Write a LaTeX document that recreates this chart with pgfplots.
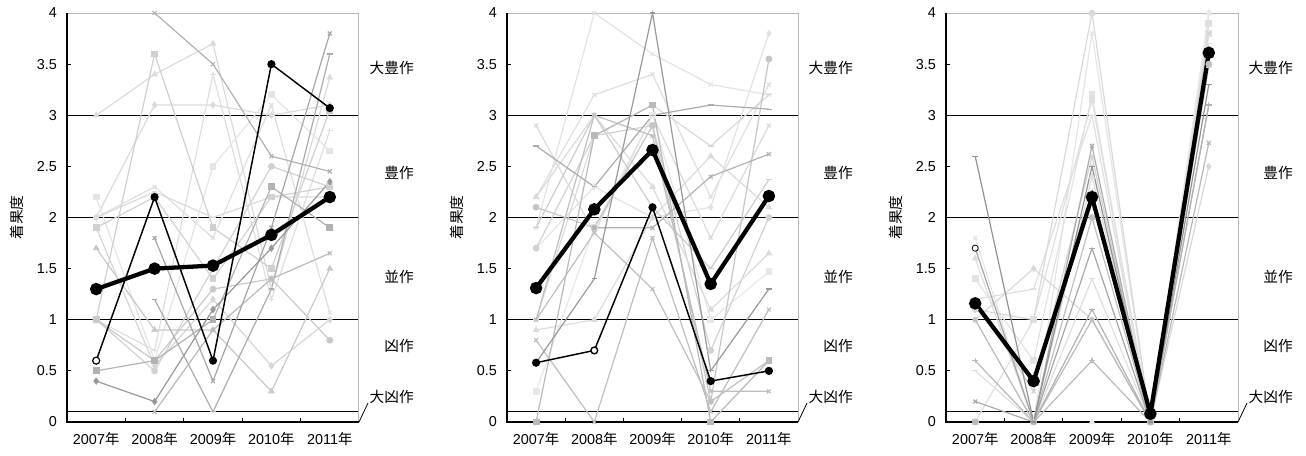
\documentclass[border=0pt]{standalone}
\usepackage{fontspec}
\setmainfont{Liberation Sans}
\newfontfamily\jp{Noto Sans CJK JP}
\usepackage{pgfplots}
\pgfplotsset{compat=1.18}
\newcommand\nen{{\jp 年}}
\pgfplotsset{
 panel/.style={
  scale only axis, width=219pt, height=306.75pt,
  xmin=0, xmax=5, ymin=0, ymax=4,
  clip=false,
  axis line style={draw=none},
  xtick={1,2,3,4}, xticklabels={},
  extra x ticks={0.5,1.5,2.5,3.5,4.5},
  extra x tick labels={2007\nen,2008\nen,2009\nen,2010\nen,2011\nen},
  extra x tick style={tick style={draw=none}},
  ytick={0,0.5,1,1.5,2,2.5,3,3.5,4},
  extra y ticks={0.1,1,2,3},
  extra y tick labels={},
  extra y tick style={grid=major, major grid style={black, line width=0.75pt}, tick style={draw=none}},
  tick align=inside, xtick pos=bottom, ytick pos=left,
  major tick length=3pt,
  tick style={black, line width=0.6pt},
  /pgf/number format/assume math mode=true,
  ylabel={\jp 着果度},
  every axis y label/.style={at={(axis description cs:-0.171,0.5)}, rotate=90, anchor=center, font=\fontsize{11}{12}\selectfont},
  tick label style={font=\fontsize{10.8}{12}\selectfont},
  yticklabel style={xshift=-4pt},
  xticklabel style={yshift=-4pt},
  every axis plot/.append style={line width=0.9pt, mark size=2.1pt, mark options={solid}},
 },
}
\newcommand\decor{%
  \draw[gray!55, line width=0.75pt] (rel axis cs:0,1) -- (rel axis cs:1,1) -- (rel axis cs:1,0);
  \draw[black, line width=0.8pt] (rel axis cs:0,1) -- (rel axis cs:0,0) -- (rel axis cs:1,0);
  \draw[black, line width=0.6pt] (axis cs:5,0) -- ++(6.75pt,14.25pt);
  \node[anchor=east, inner sep=0pt, font=\fontsize{11}{12}\selectfont\jp] at ([xshift=41.25pt]axis cs:5,3.46) {大豊作};
  \node[anchor=east, inner sep=0pt, font=\fontsize{11}{12}\selectfont\jp] at ([xshift=41.25pt]axis cs:5,2.44) {豊作};
  \node[anchor=east, inner sep=0pt, font=\fontsize{11}{12}\selectfont\jp] at ([xshift=41.25pt]axis cs:5,1.42) {並作};
  \node[anchor=east, inner sep=0pt, font=\fontsize{11}{12}\selectfont\jp] at ([xshift=41.25pt]axis cs:5,0.74) {凶作};
  \node[anchor=east, inner sep=0pt, font=\fontsize{11}{12}\selectfont\jp] at ([xshift=41.25pt]axis cs:5,0.25) {大凶作};
}
\begin{document}
\begin{tikzpicture}
\useasboundingbox (0,0) rectangle (979.5pt,341.25pt);
% ---------------- Panel 1
\begin{axis}[panel, at={(50.25pt,24.75pt)}, anchor=south west]
\addplot[gray!28, mark=triangle*] coordinates {(0.5,3.0)(1.5,3.4)(2.5,3.7)(3.5,1.3)(4.5,3.37)};
\addplot[gray!28, mark=diamond*] coordinates {(0.5,2.0)(1.5,3.1)(2.5,3.1)(3.5,3.0)(4.5,3.1)};
\addplot[gray!25, mark=+] coordinates {(0.5,1.0)(1.5,0.7)(2.5,3.4)(3.5,1.2)(4.5,2.85)};
\addplot[gray!20, mark=square*] coordinates {(0.5,2.2)(1.5,0.6)(2.5,2.5)(3.5,3.2)(4.5,2.65)};
\addplot[gray!38, mark=square*] coordinates {(0.5,1.0)(1.5,3.6)(2.5,1.9)(3.5,1.5)(4.5,3.05)};
\addplot[gray!25, mark=x] coordinates {(0.5,2.0)(1.5,2.3)(2.5,1.8)(3.5,3.1)(4.5,1.07)};
\addplot[gray!35, mark=*] coordinates {(0.5,1.0)(1.5,0.5)(2.5,1.5)(3.5,2.5)(4.5,2.3)};
\addplot[gray!32, mark=diamond*] coordinates {(0.5,1.9)(1.5,0.55)(2.5,1.2)(3.5,0.55)(4.5,1.0)};
\addplot[gray!42, mark=triangle*] coordinates {(0.5,1.7)(1.5,0.9)(2.5,0.9)(3.5,0.3)(4.5,1.5)};
\addplot[gray!28, mark=-] coordinates {(0.5,2.0)(1.5,2.25)(2.5,2.0)(3.5,2.2)(4.5,2.2)};
\addplot[gray!42, mark=*] coordinates {(0.5,1.0)(1.5,0.6)(2.5,1.3)(3.5,1.4)(4.5,0.8)};
\addplot[gray!35, mark=square*] coordinates {(0.5,1.9)(1.5,2.2)(2.5,1.4)(3.5,2.2)(4.5,2.3)};
\addplot[gray!60, mark=x] coordinates {(1.5,4.0)(2.5,3.5)(3.5,2.6)(4.5,2.45)};
\addplot[gray!60, mark=square*] coordinates {(0.5,0.5)(1.5,0.6)(2.5,1.0)(3.5,2.3)(4.5,1.9)};
\addplot[gray!55, mark=x] coordinates {(1.5,0.1)(2.5,0.9)(3.5,1.4)(4.5,1.65)};
\addplot[gray!65, mark=-] coordinates {(1.5,1.2)(2.5,0.1)(3.5,1.3)(4.5,3.6)};
\addplot[gray!70, mark=x] coordinates {(1.5,1.8)(2.5,0.4)(3.5,1.9)(4.5,3.8)};
\addplot[gray!80, mark=diamond*] coordinates {(0.5,0.4)(1.5,0.2)(2.5,1.1)(3.5,1.7)(4.5,2.35)};
\addplot[black, line width=1.1pt, mark=*, mark size=2.5pt] coordinates {(0.5,0.6)(1.5,2.2)(2.5,0.6)(3.5,3.5)(4.5,3.07)};
\addplot[black, only marks, mark=*, mark size=2.5pt, mark options={fill=white, line width=0.6pt}] coordinates {(0.5,0.6)};
\addplot[black, line width=3.2pt, mark=*, mark size=3pt] coordinates {(0.5,1.3)(1.5,1.5)(2.5,1.53)(3.5,1.83)(4.5,2.2)};
\decor
\end{axis}
% ---------------- Panel 2
\begin{axis}[panel, width=218.25pt, at={(380.25pt,24.75pt)}, anchor=south west]
\addplot[gray!22, mark=x] coordinates {(0.5,1.9)(1.5,4.0)(2.5,3.6)(3.5,3.3)(4.5,3.2)};
\addplot[gray!25, mark=x] coordinates {(0.5,2.2)(1.5,3.2)(2.5,3.4)(3.5,2.2)(4.5,3.3)};
\addplot[gray!28, mark=x] coordinates {(0.5,2.9)(1.5,1.85)(2.5,3.0)(3.5,1.8)(4.5,2.9)};
\addplot[gray!22, mark=diamond*] coordinates {(0.5,1.7)(1.5,2.3)(2.5,2.0)(3.5,2.1)(4.5,3.8)};
\addplot[gray!28, mark=triangle*] coordinates {(0.5,0.9)(1.5,1.0)(2.5,2.0)(3.5,2.6)(4.5,2.1)};
\addplot[gray!18, mark=square*] coordinates {(0.5,0.3)(1.5,1.9)(2.5,3.0)(3.5,1.0)(4.5,1.47)};
\addplot[gray!35, mark=*] coordinates {(0.5,1.7)(1.5,2.8)(2.5,2.9)(3.5,0.7)(4.5,2.0)};
\addplot[gray!28, mark=triangle*] coordinates {(0.5,2.2)(1.5,3.0)(2.5,2.3)(3.5,1.1)(4.5,1.65)};
\addplot[gray!30, mark=-] coordinates {(0.5,1.0)(1.5,2.8)(2.5,3.1)(3.5,2.7)(4.5,3.2)};
\addplot[gray!45, mark=*] coordinates {(0.5,2.1)(1.5,1.9)(2.5,2.9)(3.5,0.2)(4.5,3.55)};
\addplot[gray!40, mark=-] coordinates {(0.5,1.9)(1.5,3.0)(2.5,2.1)(3.5,1.5)(4.5,2.37)};
\addplot[gray!50, mark=x] coordinates {(0.5,1.0)(1.5,3.0)(2.5,2.8)(3.5,0.3)(4.5,0.3)};
\addplot[gray!55, mark=square*] coordinates {(0.5,0.0)(1.5,2.8)(2.5,3.1)(3.5,0.0)(4.5,0.6)};
\addplot[gray!50, mark=x] coordinates {(0.5,0.8)(1.5,0.0)(2.5,1.8)(3.5,0.1)(4.5,1.1)};
\addplot[gray!50, mark=x] coordinates {(0.5,1.0)(1.5,1.85)(2.5,1.3)(3.5,0.2)(4.5,0.6)};
\addplot[gray!60, mark=x] coordinates {(1.5,1.9)(2.5,1.9)(3.5,2.4)(4.5,2.62)};
\addplot[gray!65, mark=-] coordinates {(0.5,2.7)(1.5,2.3)(2.5,3.0)(3.5,3.1)(4.5,3.06)};
\addplot[gray!80, mark=-] coordinates {(0.5,0.58)(1.5,1.4)(2.5,4.0)(3.5,0.5)(4.5,1.3)};
\addplot[black, line width=1.1pt, mark=*, mark size=2.5pt] coordinates {(0.5,0.58)(1.5,0.7)(2.5,2.1)(3.5,0.4)(4.5,0.5)};
\addplot[black, only marks, mark=*, mark size=2.3pt, mark options={fill=white, line width=0.6pt}] coordinates {(1.5,0.7)};
\addplot[black, line width=3.2pt, mark=*, mark size=3pt] coordinates {(0.5,1.31)(1.5,2.08)(2.5,2.66)(3.5,1.35)(4.5,2.21)};
\decor
\end{axis}
% ---------------- Panel 3
\begin{axis}[panel, at={(709.5pt,24.75pt)}, anchor=south west]
\addplot[gray!20, mark=x] coordinates {(0.5,1.8)(1.5,0.0)(2.5,3.8)(3.5,0.0)(4.5,4.0)};
\addplot[gray!25, mark=triangle*] coordinates {(0.5,1.6)(1.5,0.0)(2.5,2.4)(3.5,0.0)(4.5,3.9)};
\addplot[gray!22, mark=square*] coordinates {(0.5,1.4)(1.5,0.6)(2.5,3.2)(3.5,0.0)(4.5,3.8)};
\addplot[gray!25, mark=-] coordinates {(0.5,1.2)(1.5,1.3)(2.5,3.0)(3.5,0.0)(4.5,3.7)};
\addplot[gray!30, mark=*] coordinates {(0.5,1.1)(1.5,1.0)(2.5,4.0)(3.5,0.0)(4.5,3.65)};
\addplot[gray!25, mark=-] coordinates {(0.5,0.5)(1.5,0.0)(2.5,1.4)(3.5,0.0)(4.5,3.47)};
\addplot[gray!30, mark=diamond*] coordinates {(0.5,1.0)(1.5,1.5)(2.5,1.0)(3.5,0.0)(4.5,2.5)};
\addplot[gray!25, mark=square*] coordinates {(0.5,0.0)(1.5,1.0)(2.5,3.15)(3.5,0.0)(4.5,3.9)};
\addplot[gray!18, mark=triangle*] coordinates {(0.5,0.0)(1.5,0.0)(2.5,0.0)(3.5,0.0)(4.5,4.0)};
\addplot[gray!35, mark=x] coordinates {(0.5,1.2)(1.5,0.3)(2.5,2.6)(3.5,0.0)(4.5,3.8)};
\addplot[gray!50, mark=*] coordinates {(0.5,0.0)(1.5,0.0)(2.5,2.0)(3.5,0.0)(4.5,3.5)};
\addplot[gray!55, mark=x] coordinates {(0.5,1.0)(1.5,0.0)(2.5,1.0)(3.5,0.0)(4.5,2.73)};
\addplot[gray!55, mark=+] coordinates {(0.5,0.6)(1.5,0.0)(2.5,0.6)(3.5,0.0)(4.5,3.1)};
\addplot[gray!60, mark=-] coordinates {(0.5,0.0)(1.5,0.0)(2.5,1.1)(3.5,0.0)(4.5,3.1)};
\addplot[gray!65, mark=x] coordinates {(0.5,0.2)(1.5,0.0)(2.5,2.7)(3.5,0.0)(4.5,3.6)};
\addplot[gray!70, mark=-] coordinates {(0.5,1.7)(1.5,0.0)(2.5,1.7)(3.5,0.0)(4.5,3.65)};
\addplot[gray!85, mark=-] coordinates {(0.5,2.6)(1.5,0.0)(2.5,2.5)(3.5,0.0)(4.5,3.3)};
\addplot[black, only marks, mark=*, mark size=2.3pt, mark options={fill=white, line width=0.6pt}] coordinates {(0.5,1.7)};
\addplot[black, line width=3.2pt, mark=*, mark size=3pt] coordinates {(0.5,1.16)(1.5,0.4)(2.5,2.2)(3.5,0.08)(4.5,3.61)};
\decor
\end{axis}
\end{tikzpicture}
\end{document}
